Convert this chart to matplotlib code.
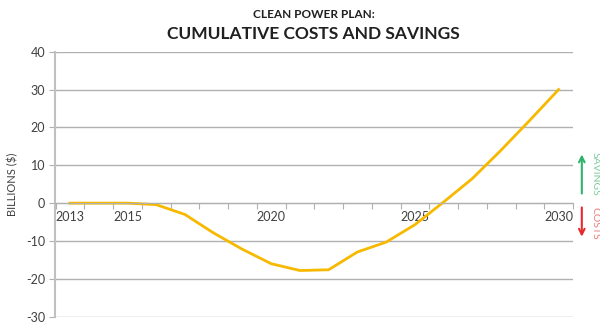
import matplotlib.pyplot as plt
import numpy as np

# cumulative costs (-) and savings (+), billions of dollars
years = np.arange(2013, 2031)
values = [0, 0, 0, -0.4, -3.0, -7.9, -12.2, -16.0, -17.8,
          -17.6, -12.9, -10.3, -5.7, 0.3, 6.5, 14.0, 21.9, 30.0]
label_years = [2013, 2015, 2020, 2025, 2030]
y_ticks = [-30, -20, -10, 0, 10, 20, 30, 40]

plt.rcParams['font.family'] = ['Lato', 'DejaVu Sans']
plt.rcParams['axes.unicode_minus'] = False

fig = plt.figure(figsize=(6, 3.24), dpi=100)
ax = fig.add_axes([0.0917, 0.0225, 0.8633, 0.818])

ax.plot(years, values, color='#F7B900', linewidth=2.0, solid_joinstyle='miter')

ax.set_xlim(years[0] - 0.52, years[-1] + 0.5)
ax.set_ylim(-30, 40)

# y axis
ax.set_yticks(y_ticks)
ax.yaxis.grid(True, color='#b0b0b0', linewidth=1.0)
ax.set_axisbelow(True)
ax.tick_params(axis='y', length=4, color='#b0b0b0', labelsize=9,
               labelcolor='#404040', pad=3)
ax.set_ylabel('BILLIONS ($)', fontsize=8, color='#404040', labelpad=6)

# x axis sits on zero, ticks at category boundaries
ax.spines['bottom'].set_position(('data', 0))
ax.spines['bottom'].set_color('#b0b0b0')
ax.spines['left'].set_color('#c0c0c0')
ax.spines['left'].set_linewidth(1.5)
ax.spines['top'].set_visible(False)
ax.spines['right'].set_visible(False)
ax.set_xticks(np.append(years - 0.5, years[-1] + 0.5))
ax.set_xticklabels([])
ax.tick_params(axis='x', which='major', length=4, color='#b0b0b0')
ax.set_xticks(label_years, minor=True)
ax.set_xticklabels([str(y) for y in label_years], minor=True)
ax.tick_params(axis='x', which='minor', length=0, labelsize=9,
               labelcolor='#404040', pad=6)

# titles
fig.text(0.523, 0.955, 'CLEAN POWER PLAN:', ha='center', va='center',
         fontsize=8.5, fontweight='bold', color='#202020')
fig.text(0.523, 0.895, 'CUMULATIVE COSTS AND SAVINGS', ha='center',
         va='center', fontsize=12.5, fontweight='bold', color='#202020')

# savings / costs arrows
ax.annotate('', xy=(1.017, 13.6), xytext=(1.017, 1.8),
            xycoords=('axes fraction', 'data'), annotation_clip=False,
            arrowprops=dict(arrowstyle='->', color='#2DB36B', lw=1.5))
ax.annotate('', xy=(1.017, -9.6), xytext=(1.017, -0.4),
            xycoords=('axes fraction', 'data'), annotation_clip=False,
            arrowprops=dict(arrowstyle='->', color='#E8282B', lw=1.5))
ax.text(1.042, 7.8, 'SAVINGS', transform=ax.get_yaxis_transform(),
        rotation=-90, ha='center', va='center', fontsize=7.5,
        color='#7DCB9C', clip_on=False)
ax.text(1.042, -5.3, 'COSTS', transform=ax.get_yaxis_transform(),
        rotation=-90, ha='center', va='center', fontsize=7.5,
        color='#EC7B7B', clip_on=False)

fig.savefig('out.png', dpi=100)
